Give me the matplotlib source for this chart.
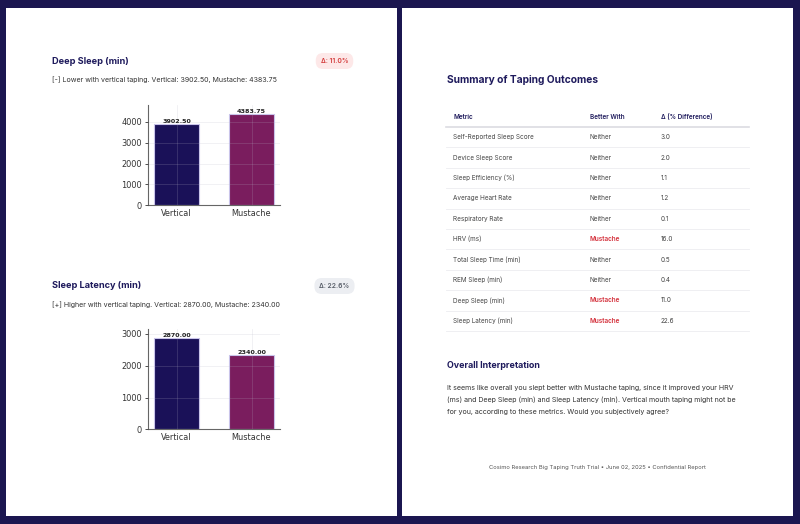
import matplotlib
matplotlib.use("Agg")
import matplotlib.pyplot as plt
from matplotlib.patches import Rectangle

# ---------------- data ----------------
groups = ["Vertical", "Mustache"]
deep_sleep = [3902.50, 4383.75]
sleep_latency = [2870.00, 2340.00]
deep_delta = "Δ: 11.0%"
latency_delta = "Δ: 22.6%"
deep_sub = "[-] Lower with vertical taping. Vertical: 3902.50, Mustache: 4383.75"
latency_sub = "[+] Higher with vertical taping. Vertical: 2870.00, Mustache: 2340.00"

metrics = ["Self-Reported Sleep Score", "Device Sleep Score", "Sleep Efficiency (%)",
           "Average Heart Rate", "Respiratory Rate", "HRV (ms)", "Total Sleep Time (min)",
           "REM Sleep (min)", "Deep Sleep (min)", "Sleep Latency (min)"]
better_with = ["Neither", "Neither", "Neither", "Neither", "Neither", "Mustache",
               "Neither", "Neither", "Mustache", "Mustache"]
deltas = ["3.0", "2.0", "1.1", "1.2", "0.1", "16.0", "0.5", "0.4", "11.0", "22.6"]
headers = ["Metric", "Better With", "Δ (% Difference)"]

interp_lines = [
    "It seems like overall you slept better with Mustache taping, since it improved your HRV",
    "(ms) and Deep Sleep (min) and Sleep Latency (min). Vertical mouth taping might not be",
    "for you, according to these metrics. Would you subjectively agree?",
]
footer = "Cosimo Research Big Taping Truth Trial • June 02, 2025 • Confidential Report"

# ---------------- style ----------------
NAVY_BG = "#1b1650"
TITLE = "#1e1a5c"
C_VERT = "#1a1158"
C_MUST = "#7a1d5e"
RED = "#d4303b"
FONT = ["Inter", "DejaVu Sans"]

W, H = 800, 524
fig = plt.figure(figsize=(W / 100, H / 100), dpi=100)
fig.patch.set_facecolor(NAVY_BG)

bg = fig.add_axes([0, 0, 1, 1])
bg.set_xlim(0, W)
bg.set_ylim(H, 0)
bg.axis("off")
bg.set_zorder(0)

# white pages
bg.add_patch(Rectangle((6, 8), 391, 508, facecolor="white", edgecolor="none"))
bg.add_patch(Rectangle((402, 8), 391, 508, facecolor="white", edgecolor="none"))


def txt(x, y, s, size, color="#333333", weight="normal", ha="left", **kw):
    return bg.text(x, y, s, fontsize=size, color=color, fontweight=weight, ha=ha,
                   va="center", family=FONT, **kw)


def section(y_title, title, sub, badge, badge_fc, badge_tc):
    txt(52, y_title, title, 6.6, TITLE, "bold")
    txt(52, y_title + 19, sub, 5.05, "#333333")
    txt(334.5, y_title, badge, 4.8, badge_tc, "semibold", ha="center",
        bbox=dict(boxstyle="round,pad=0.75,rounding_size=1.1", fc=badge_fc, ec="none"))


section(61, "Deep Sleep (min)", deep_sub, deep_delta, "#fde8e8", "#d33a3a")
section(286, "Sleep Latency (min)", latency_sub, latency_delta, "#eceef2", "#555b66")


def bar_axes(rect, values):
    ax = fig.add_axes(rect)
    ax.set_zorder(2)
    ax.set_facecolor("white")
    bars = ax.bar(groups, values, width=0.6, color=[C_VERT, C_MUST],
                  edgecolor="#c9c4ea", linewidth=0.8, zorder=1)
    ax.set_axisbelow(False)
    ax.grid(True, color="#b8b8c8", linewidth=0.6, alpha=0.22, zorder=3)
    ax.set_ylim(0, max(values) * 1.1)
    for b, v in zip(bars, values):
        ax.text(b.get_x() + b.get_width() / 2, v, f"{v:.2f}", ha="center", va="bottom",
                fontsize=4.6, fontweight="bold", color="#222222", family="DejaVu Sans")
    for s in ["top", "right"]:
        ax.spines[s].set_visible(False)
    for s in ["left", "bottom"]:
        ax.spines[s].set_color("#666666")
        ax.spines[s].set_linewidth(0.8)
    ax.tick_params(labelsize=5.9, colors="#333333", length=2.5, width=0.6, pad=2)
    ax.tick_params(axis="x", length=0, pad=3)
    return ax


bar_axes([148 / W, (H - 205.3) / H, 132 / W, 100.6 / H], deep_sleep)
bar_axes([148 / W, (H - 429.3) / H, 132 / W, 100.3 / H], sleep_latency)

# ---------------- right page ----------------
txt(447, 80, "Summary of Taping Outcomes", 7.35, TITLE, "bold")

col_x = [453, 590, 661]
for x, h in zip(col_x, headers):
    txt(x, 116.7, h, 4.6, TITLE, "semibold")
bg.plot([446, 749], [126.7, 126.7], color="#dcdce2", lw=1.2)

row0, step = 137.3, 20.38
for i, (m, b, d) in enumerate(zip(metrics, better_with, deltas)):
    y = row0 + i * step
    txt(col_x[0], y, m, 4.6, "#444444")
    if b == "Mustache":
        txt(col_x[1], y, b, 4.6, RED, "semibold")
    else:
        txt(col_x[1], y, b, 4.6, "#444444")
    txt(col_x[2], y, d, 4.6, "#444444")
    yl = y + step / 2
    bg.plot([446, 749], [yl, yl], color="#ececf0", lw=0.6)

txt(447, 366, "Overall Interpretation", 6.4, TITLE, "bold")
for i, line in enumerate(interp_lines):
    txt(447, 387.7 + i * 12, line, 5.1, "#333333")

txt(597.5, 467, footer, 4.2, "#555555", ha="center")

fig.savefig("out.png", dpi=100, facecolor=fig.get_facecolor())
